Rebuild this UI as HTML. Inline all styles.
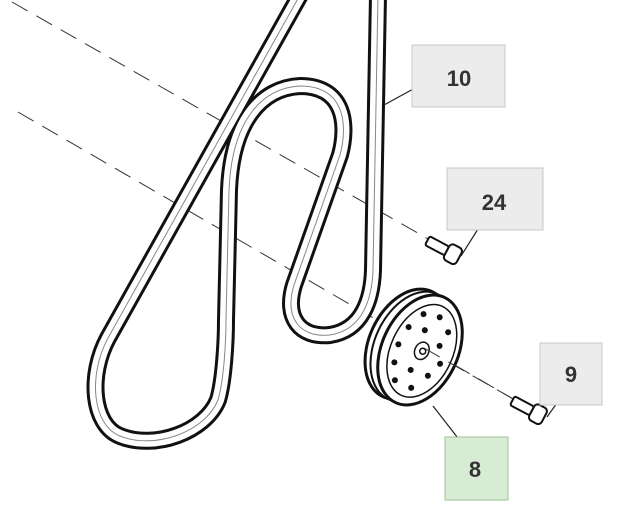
<!DOCTYPE html>
<html><head><style>html,body{margin:0;padding:0;background:#fff}svg{display:block}</style></head>
<body>
<svg width="637" height="519" viewBox="0 0 637 519" xmlns="http://www.w3.org/2000/svg">
<defs>
<path id="b" d="M300,-5 L108,338 C88,375 92,425 120,436 C155,450 205,432 218,400 C224,380 226,340 226,320 L229,190 C232,120 262,88 300,86 C345,86 348,125 340,155 L294,285 C284,318 300,338 330,335 C362,330 372,300 373,270 L378,-5"/>
</defs>
<rect width="637" height="519" fill="#fff"/>
<g stroke="#333" stroke-width="1" stroke-dasharray="18,10" fill="none">
<line x1="12" y1="2" x2="430" y2="240"/>
<line x1="18" y1="112" x2="515" y2="400"/>
</g>
<g fill="none" stroke-linejoin="round">
<use href="#b" stroke="#111" stroke-width="18"/>
<use href="#b" stroke="#fff" stroke-width="12"/>
<use href="#b" stroke="#888" stroke-width="1"/>
</g>
<g transform="translate(420,350) rotate(25)" stroke="#111" fill="#fff">
<ellipse cx="-14" cy="0" rx="38" ry="58" stroke-width="3"/>
<ellipse cx="-8" cy="0" rx="38" ry="58" stroke-width="2"/>
<ellipse cx="0" cy="0" rx="38" ry="58" stroke-width="3"/>
<ellipse cx="2" cy="0" rx="31" ry="49" stroke-width="1.5"/>
<g fill="#111" stroke="none">
<circle cx="-12" cy="-34" r="3"/><circle cx="4" cy="-38" r="3"/><circle cx="18" cy="-28" r="3"/>
<circle cx="-20" cy="-16" r="3"/><circle cx="-4" cy="-20" r="3"/><circle cx="16" cy="-12" r="3"/>
<circle cx="-22" cy="4" r="3"/><circle cx="24" cy="4" r="3"/>
<circle cx="-18" cy="22" r="3"/><circle cx="0" cy="22" r="3"/><circle cx="18" cy="20" r="3"/>
<circle cx="-10" cy="38" r="3"/><circle cx="8" cy="38" r="3"/>
</g>
<ellipse cx="2" cy="0" rx="7" ry="9" stroke-width="1.5"/>
<circle cx="3" cy="0" r="3" stroke-width="1.5"/>
</g>
<line x1="424" y1="348" x2="515" y2="400" stroke="#333" stroke-dasharray="18,10"/>
<g transform="translate(445,250) rotate(28)" stroke="#111" stroke-width="2" fill="#fff">
<rect x="-20" y="-5" width="22" height="10" rx="2"/>
<rect x="2" y="-9" width="14" height="18" rx="4"/>
</g>
<g transform="translate(530,410) rotate(28)" stroke="#111" stroke-width="2" fill="#fff">
<rect x="-20" y="-5" width="22" height="10" rx="2"/>
<rect x="2" y="-9" width="14" height="18" rx="4"/>
</g>
<g stroke="#222" stroke-width="1.2">
<line x1="415" y1="88" x2="384" y2="105"/>
<line x1="478" y1="229" x2="461" y2="256"/>
<line x1="557" y1="403" x2="547" y2="417"/>
<line x1="468" y1="451" x2="433" y2="406"/>
</g>
<g font-family="Liberation Sans, sans-serif" font-weight="bold" font-size="22" fill="#333" text-anchor="middle">
<rect x="412" y="45" width="93" height="62" fill="#ececec" stroke="#c8c8c8"/>
<text x="459" y="86">10</text>
<rect x="447" y="168" width="96" height="62" fill="#ececec" stroke="#c8c8c8"/>
<text x="494" y="210">24</text>
<rect x="540" y="343" width="62" height="62" fill="#ececec" stroke="#c8c8c8"/>
<text x="571" y="382">9</text>
<rect x="445" y="437" width="63" height="63" fill="#d8ebd4" stroke="#9cc095"/>
<text x="475" y="477">8</text>
</g>
</svg>
</body></html>
